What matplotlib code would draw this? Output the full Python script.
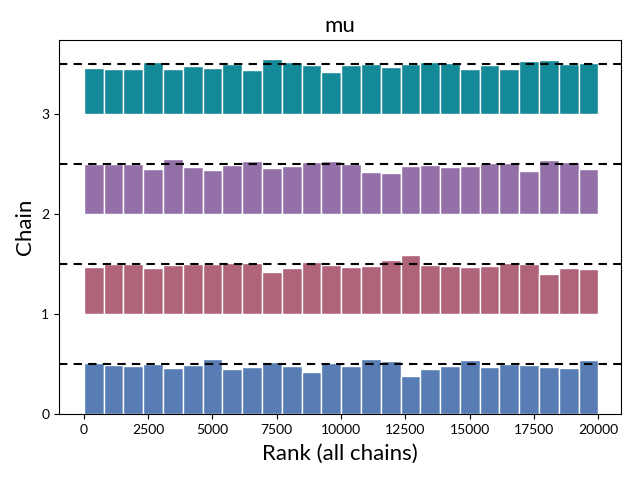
import numpy as np
import matplotlib.pyplot as plt

plt.rcParams['font.family'] = ['Lato', 'DejaVu Sans']

# rank histogram heights per chain (expected height 0.5), 26 bins over 0..20000
rank_max = 20000
chain_ids = [0, 1, 2, 3]
chain_colors = ["#587db4", "#b0647a", "#9470a8", "#148a98"]

heights_chain0 = [0.510, 0.490, 0.480, 0.500, 0.459, 0.490, 0.551, 0.449, 0.470, 0.520,
                  0.480, 0.419, 0.510, 0.480, 0.551, 0.530, 0.378, 0.449, 0.480, 0.541,
                  0.470, 0.500, 0.490, 0.470, 0.459, 0.541]
heights_chain1 = [0.470, 0.500, 0.500, 0.459, 0.490, 0.500, 0.500, 0.510, 0.510, 0.419,
                  0.459, 0.520, 0.490, 0.470, 0.480, 0.541, 0.591, 0.490, 0.480, 0.470,
                  0.480, 0.510, 0.500, 0.399, 0.459, 0.449]
heights_chain2 = [0.500, 0.500, 0.500, 0.449, 0.551, 0.470, 0.439, 0.490, 0.530, 0.459,
                  0.480, 0.520, 0.530, 0.500, 0.419, 0.409, 0.480, 0.490, 0.470, 0.480,
                  0.510, 0.510, 0.429, 0.541, 0.520, 0.449]
heights_chain3 = [0.459, 0.449, 0.449, 0.520, 0.449, 0.480, 0.459, 0.500, 0.439, 0.551,
                  0.520, 0.490, 0.419, 0.490, 0.500, 0.470, 0.500, 0.520, 0.510, 0.449,
                  0.490, 0.449, 0.530, 0.541, 0.500, 0.510]
all_heights = [heights_chain0, heights_chain1, heights_chain2, heights_chain3]

fig = plt.figure(figsize=(6.4, 4.8), dpi=100)
ax = fig.add_axes([0.092, 0.1375, 0.878, 0.779])

n_bins = len(heights_chain0)
edges = np.linspace(0, rank_max, n_bins + 1)
width = edges[1] - edges[0]

for idx, heights in zip(chain_ids, all_heights):
    ax.bar(edges[:-1], heights, width=width, bottom=idx, align="edge",
           color=chain_colors[idx], edgecolor="white", linewidth=1)
    ax.axhline(idx + 0.5, color="black", linestyle="--", linewidth=1.5, dashes=(4, 3))

ax.set_xlim(-970, 20870)
ax.set_ylim(0, 3.74)
ax.set_yticks(chain_ids)
ax.tick_params(labelsize=10)
ax.set_xlabel("Rank (all chains)", fontsize=16, labelpad=6)
ax.set_ylabel("Chain", fontsize=16)
ax.set_title("mu", fontsize=16)

fig.savefig("out.png", dpi=100)
